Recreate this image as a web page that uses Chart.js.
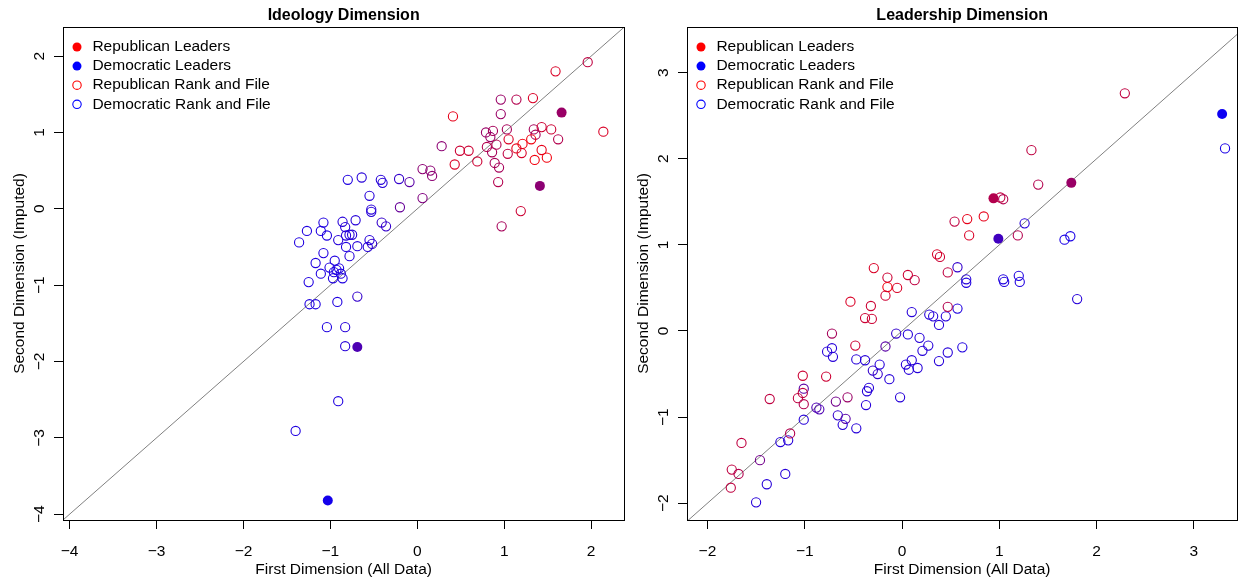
<!DOCTYPE html>
<html>
<head>
<meta charset="utf-8">
<script src="https://cdn.jsdelivr.net/npm/chart.js@4.4.1/dist/chart.umd.min.js"></script>
<style>
html, body { margin: 0; padding: 0; background: #fff; overflow: hidden; }
#wrapL { position: absolute; left: 0; top: 0; width: 630px; height: 582px; }
#wrapR { position: absolute; left: 624px; top: 0; width: 619px; height: 582px; }
</style>
</head>
<body>
<div id="wrapL"><canvas id="ideology"></canvas></div>
<div id="wrapR"><canvas id="leadership"></canvas></div>
<script>
// each point: [first dimension, second dimension, red share of its colour]
var ideologyRepLeaders = [[1.66, 1.26, 0.6], [1.41, 0.30, 0.55]];
var ideologyDemLeaders = [[-0.69, -1.81, 0.3], [-1.03, -3.82, 0.08]];
var ideologyRepRank = [
  [1.96, 1.92, 0.75], [1.59, 1.80, 0.85], [0.96, 1.43, 0.6], [1.14, 1.43, 0.7], [1.33, 1.45, 0.85],
  [0.96, 1.24, 0.6], [0.41, 1.21, 0.9], [1.03, 1.04, 0.65], [0.79, 1.00, 0.6], [0.87, 1.02, 0.65],
  [0.84, 0.94, 0.6], [1.05, 0.91, 0.85], [1.34, 1.04, 0.65], [1.43, 1.07, 0.8], [1.54, 1.04, 0.8],
  [1.36, 0.97, 0.65], [1.31, 0.91, 0.95], [1.62, 0.91, 0.7], [2.14, 1.01, 0.85], [0.80, 0.81, 0.7],
  [0.91, 0.84, 0.7], [0.86, 0.74, 0.65], [1.14, 0.79, 0.9], [1.21, 0.85, 0.95], [1.20, 0.73, 0.85],
  [1.04, 0.72, 0.75], [1.43, 0.77, 0.9], [1.35, 0.64, 0.95], [1.49, 0.67, 0.95], [0.49, 0.76, 0.8],
  [0.59, 0.76, 0.8], [0.43, 0.58, 0.85], [0.69, 0.62, 0.8], [0.89, 0.60, 0.65], [0.94, 0.54, 0.65],
  [0.93, 0.35, 0.7], [1.19, -0.03, 0.8], [0.97, -0.23, 0.65], [0.28, 0.82, 0.55], [0.06, 0.52, 0.55],
  [0.15, 0.50, 0.55], [0.17, 0.43, 0.55], [0.06, 0.14, 0.5]
];
var ideologyDemRank = [
  [-0.09, 0.35, 0.35], [-0.20, 0.02, 0.4], [-0.21, 0.39, 0.2], [-0.42, 0.38, 0.15], [-0.40, 0.34, 0.15],
  [-0.64, 0.41, 0.15], [-0.80, 0.38, 0.12], [-0.55, 0.17, 0.15], [-0.53, -0.01, 0.15], [-0.53, -0.04, 0.15],
  [-0.41, -0.18, 0.2], [-0.36, -0.23, 0.2], [-0.71, -0.15, 0.15], [-0.86, -0.17, 0.15], [-0.83, -0.24, 0.15],
  [-0.78, -0.34, 0.15], [-0.75, -0.34, 0.15], [-0.82, -0.35, 0.15], [-0.55, -0.41, 0.15], [-0.52, -0.46, 0.2],
  [-0.69, -0.49, 0.15], [-0.57, -0.50, 0.15], [-0.82, -0.50, 0.12], [-0.78, -0.62, 0.15], [-1.08, -0.18, 0.12],
  [-1.27, -0.29, 0.12], [-1.11, -0.29, 0.12], [-1.04, -0.35, 0.12], [-0.91, -0.41, 0.15], [-1.36, -0.44, 0.12],
  [-1.08, -0.58, 0.12], [-0.95, -0.68, 0.12], [-1.17, -0.71, 0.12], [-1.01, -0.77, 0.12], [-1.11, -0.85, 0.12],
  [-1.25, -0.96, 0.12], [-0.96, -0.83, 0.12], [-0.88, -0.85, 0.12], [-0.97, -0.91, 0.12], [-0.86, -0.91, 0.12],
  [-0.90, -0.78, 0.12], [-0.93, -0.80, 0.12], [-1.24, -1.25, 0.12], [-1.17, -1.25, 0.12], [-0.92, -1.22, 0.12],
  [-0.69, -1.15, 0.2], [-1.04, -1.55, 0.12], [-0.83, -1.55, 0.15], [-0.83, -1.80, 0.15], [-0.91, -2.52, 0.12],
  [-1.40, -2.91, 0.12]
];

var leadershipRepLeaders = [[1.74, 1.72, 0.6], [0.94, 1.54, 0.7]];
var leadershipDemLeaders = [[0.99, 1.07, 0.25], [3.29, 2.52, 0.05]];
var leadershipRepRank = [
  [2.29, 2.76, 0.75], [1.33, 2.10, 0.75], [1.40, 1.70, 0.7], [1.01, 1.55, 0.75], [1.04, 1.53, 0.7],
  [0.54, 1.27, 0.75], [0.67, 1.30, 0.9], [0.84, 1.33, 0.9], [0.69, 1.11, 0.85], [1.19, 1.11, 0.7],
  [0.36, 0.89, 0.85], [0.39, 0.86, 0.8], [-0.29, 0.73, 0.85], [0.47, 0.68, 0.75], [-0.15, 0.62, 0.8],
  [0.06, 0.65, 0.8], [0.13, 0.59, 0.75], [-0.15, 0.51, 0.95], [-0.05, 0.50, 0.85], [-0.17, 0.41, 0.8],
  [-0.53, 0.34, 0.85], [-0.32, 0.29, 0.8], [-0.38, 0.15, 0.8], [-0.31, 0.14, 0.8], [0.47, 0.28, 0.7],
  [-0.72, -0.03, 0.65], [-0.48, -0.17, 0.8], [-1.02, -0.52, 0.8], [-0.78, -0.53, 0.8], [-1.02, -0.72, 0.75],
  [-1.07, -0.78, 0.75], [-1.36, -0.79, 0.75], [-1.01, -0.85, 0.7], [-0.56, -0.77, 0.6], [-1.15, -1.19, 0.7],
  [-1.65, -1.30, 0.75], [-1.75, -1.61, 0.75], [-1.68, -1.66, 0.7], [-1.76, -1.82, 0.75]
];
var leadershipDemRank = [
  [3.32, 2.12, 0.1], [1.26, 1.25, 0.15], [1.67, 1.06, 0.1], [1.73, 1.10, 0.1], [0.57, 0.74, 0.2],
  [0.66, 0.60, 0.15], [1.04, 0.60, 0.12], [1.20, 0.64, 0.12], [0.66, 0.56, 0.12], [1.05, 0.57, 0.12],
  [1.21, 0.57, 0.12], [1.80, 0.37, 0.15], [0.57, 0.26, 0.12], [0.62, -0.19, 0.12], [0.10, 0.22, 0.15],
  [0.28, 0.19, 0.15], [0.32, 0.17, 0.15], [0.45, 0.17, 0.15], [0.38, 0.07, 0.15], [-0.06, -0.03, 0.2],
  [0.06, -0.04, 0.15], [0.18, -0.08, 0.15], [0.27, -0.17, 0.15], [0.21, -0.23, 0.15], [0.47, -0.25, 0.15],
  [0.38, -0.35, 0.15], [-0.17, -0.18, 0.35], [-0.77, -0.24, 0.15], [-0.72, -0.20, 0.15], [-0.71, -0.30, 0.15],
  [-0.47, -0.33, 0.15], [-0.38, -0.34, 0.15], [-0.23, -0.39, 0.15], [-0.30, -0.46, 0.2], [-0.25, -0.50, 0.2],
  [0.04, -0.39, 0.15], [0.10, -0.34, 0.15], [0.07, -0.45, 0.15], [0.16, -0.43, 0.15], [-0.13, -0.56, 0.15],
  [-0.02, -0.77, 0.15], [-0.37, -0.86, 0.15], [-0.36, -0.70, 0.15], [-0.34, -0.66, 0.15], [-0.88, -0.89, 0.3],
  [-0.85, -0.91, 0.3], [-0.66, -0.98, 0.2], [-0.58, -1.02, 0.35], [-0.61, -1.09, 0.15], [-0.47, -1.13, 0.15],
  [-1.01, -1.03, 0.15], [-1.25, -1.29, 0.15], [-1.17, -1.27, 0.15], [-1.39, -1.78, 0.15], [-1.20, -1.66, 0.15],
  [-1.50, -1.99, 0.15], [-1.01, -0.67, 0.35], [-1.46, -1.50, 0.45], [-0.68, -0.82, 0.45]
];

var ideologyTicks = [-4, -3, -2, -1, 0, 1, 2];
var leadershipXTicks = [-2, -1, 0, 1, 2, 3];
var leadershipYTicks = [-2, -1, 0, 1, 2, 3];
var legendLabels = ['Republican Leaders', 'Democratic Leaders', 'Republican Rank and File', 'Democratic Rank and File'];

var FONT = '"Liberation Sans", Arial, Helvetica, sans-serif';
Chart.defaults.font.family = FONT;
Chart.defaults.color = '#000';

function mixColor(m) {
  return 'rgb(' + Math.round(255 * m) + ',0,' + Math.round(255 * (1 - m)) + ')';
}
function fmt(v) {
  return String(v).replace('-', '\u2212');
}
function pts(arr) {
  return arr.map(function (p) { return {x: p[0], y: p[1]}; });
}
function cols(arr) {
  return arr.map(function (p) { return mixColor(p[2]); });
}

function axis(pos, min, max, ticks, title) {
  var left = pos === 'left';
  return {
    type: 'linear',
    position: pos,
    min: min,
    max: max,
    afterBuildTicks: function (s) { s.ticks = ticks.map(function (v) { return {value: v}; }); },
    afterFit: function (s) { if (left) { s.width = 63; } else { s.height = 62; } },
    grid: {drawOnChartArea: false, drawTicks: true, tickLength: 9, tickColor: '#000', color: '#000'},
    border: {display: true, color: '#000'},
    ticks: {
      display: !left, autoSkip: false, maxRotation: 0, padding: 13,
      font: {size: 15.5}, color: '#000',
      callback: function (v) { return fmt(v); }
    },
    title: {
      display: true, text: title, color: '#000', font: {size: 15.5},
      padding: left ? {top: 10, bottom: 0} : {top: 0, bottom: 2.7}
    }
  };
}

// box, panel title, rotated y tick labels and legend inside the plot
var panelExtras = {
  id: 'panelExtras',
  afterDraw: function (chart, args, opts) {
    var ctx = chart.ctx, a = chart.chartArea;
    ctx.save();
    ctx.strokeStyle = '#000';
    ctx.lineWidth = 1;
    ctx.strokeRect(Math.round(a.left) + 0.5, Math.round(a.top) + 0.5,
      Math.round(a.right - a.left), Math.round(a.bottom - a.top));

    ctx.fillStyle = '#000';
    ctx.font = 'bold 16px ' + FONT;
    ctx.textAlign = 'center';
    ctx.textBaseline = 'middle';
    ctx.fillText(opts.title, (a.left + a.right) / 2, 15.5);

    var ys = chart.scales.y;
    ctx.font = '15.5px ' + FONT;
    ctx.textBaseline = 'alphabetic';
    ys.ticks.forEach(function (t) {
      var py = ys.getPixelForValue(t.value);
      ctx.save();
      ctx.translate(a.left - 19, py);
      ctx.rotate(-Math.PI / 2);
      ctx.fillText(fmt(t.value), 0, 0);
      ctx.restore();
    });

    ctx.textAlign = 'left';
    ctx.textBaseline = 'middle';
    legendLabels.forEach(function (lab, i) {
      var cy = a.top + 20 + i * 19.1;
      var cx = a.left + 14;
      var c = (i % 2 === 0) ? '#ff0000' : '#0000ff';
      ctx.beginPath();
      ctx.arc(cx, cy, i < 2 ? 4.5 : 4.2, 0, Math.PI * 2);
      if (i < 2) { ctx.fillStyle = c; ctx.fill(); }
      else { ctx.strokeStyle = c; ctx.lineWidth = 1.1; ctx.stroke(); }
      ctx.fillStyle = '#000';
      ctx.fillText(lab, a.left + 29.4, cy);
    });
    ctx.restore();
  }
};

function makePanel(id, title, repL, demL, repR, demR, xr, yr, xt, yt, padRight) {
  return new Chart(document.getElementById(id), {
    type: 'scatter',
    data: {
      datasets: [
        {label: legendLabels[0], data: pts(repL), pointBackgroundColor: cols(repL), pointBorderColor: cols(repL), pointRadius: 5, pointBorderWidth: 0},
        {label: legendLabels[1], data: pts(demL), pointBackgroundColor: cols(demL), pointBorderColor: cols(demL), pointRadius: 5, pointBorderWidth: 0},
        {label: legendLabels[2], data: pts(repR), pointBackgroundColor: 'rgba(0,0,0,0)', pointBorderColor: cols(repR), pointRadius: 4.6, pointBorderWidth: 1.1},
        {label: legendLabels[3], data: pts(demR), pointBackgroundColor: 'rgba(0,0,0,0)', pointBorderColor: cols(demR), pointRadius: 4.6, pointBorderWidth: 1.1},
        {type: 'line', label: 'y = x', data: [{x: -5, y: -5}, {x: 4, y: 4}], borderColor: '#808080', borderWidth: 1, pointRadius: 0, showLine: true}
      ]
    },
    options: {
      animation: false,
      responsive: true,
      maintainAspectRatio: false,
      events: [],
      layout: {padding: {top: 27, right: padRight, left: 0, bottom: 0}},
      plugins: {
        legend: {display: false},
        tooltip: {enabled: false},
        panelExtras: {title: title}
      },
      scales: {
        x: axis('bottom', xr[0], xr[1], xt, 'First Dimension (All Data)'),
        y: axis('left', yr[0], yr[1], yt, 'Second Dimension (Imputed)')
      }
    },
    plugins: [panelExtras]
  });
}

makePanel('ideology', 'Ideology Dimension', ideologyRepLeaders, ideologyDemLeaders, ideologyRepRank, ideologyDemRank,
  [-4.076, 2.381], [-4.076, 2.381], ideologyTicks, ideologyTicks, 4);
makePanel('leadership', 'Leadership Dimension', leadershipRepLeaders, leadershipDemLeaders, leadershipRepRank, leadershipDemRank,
  [-2.21, 3.446], [-2.195, 3.53], leadershipXTicks, leadershipYTicks, 3);
</script>
</body>
</html>
